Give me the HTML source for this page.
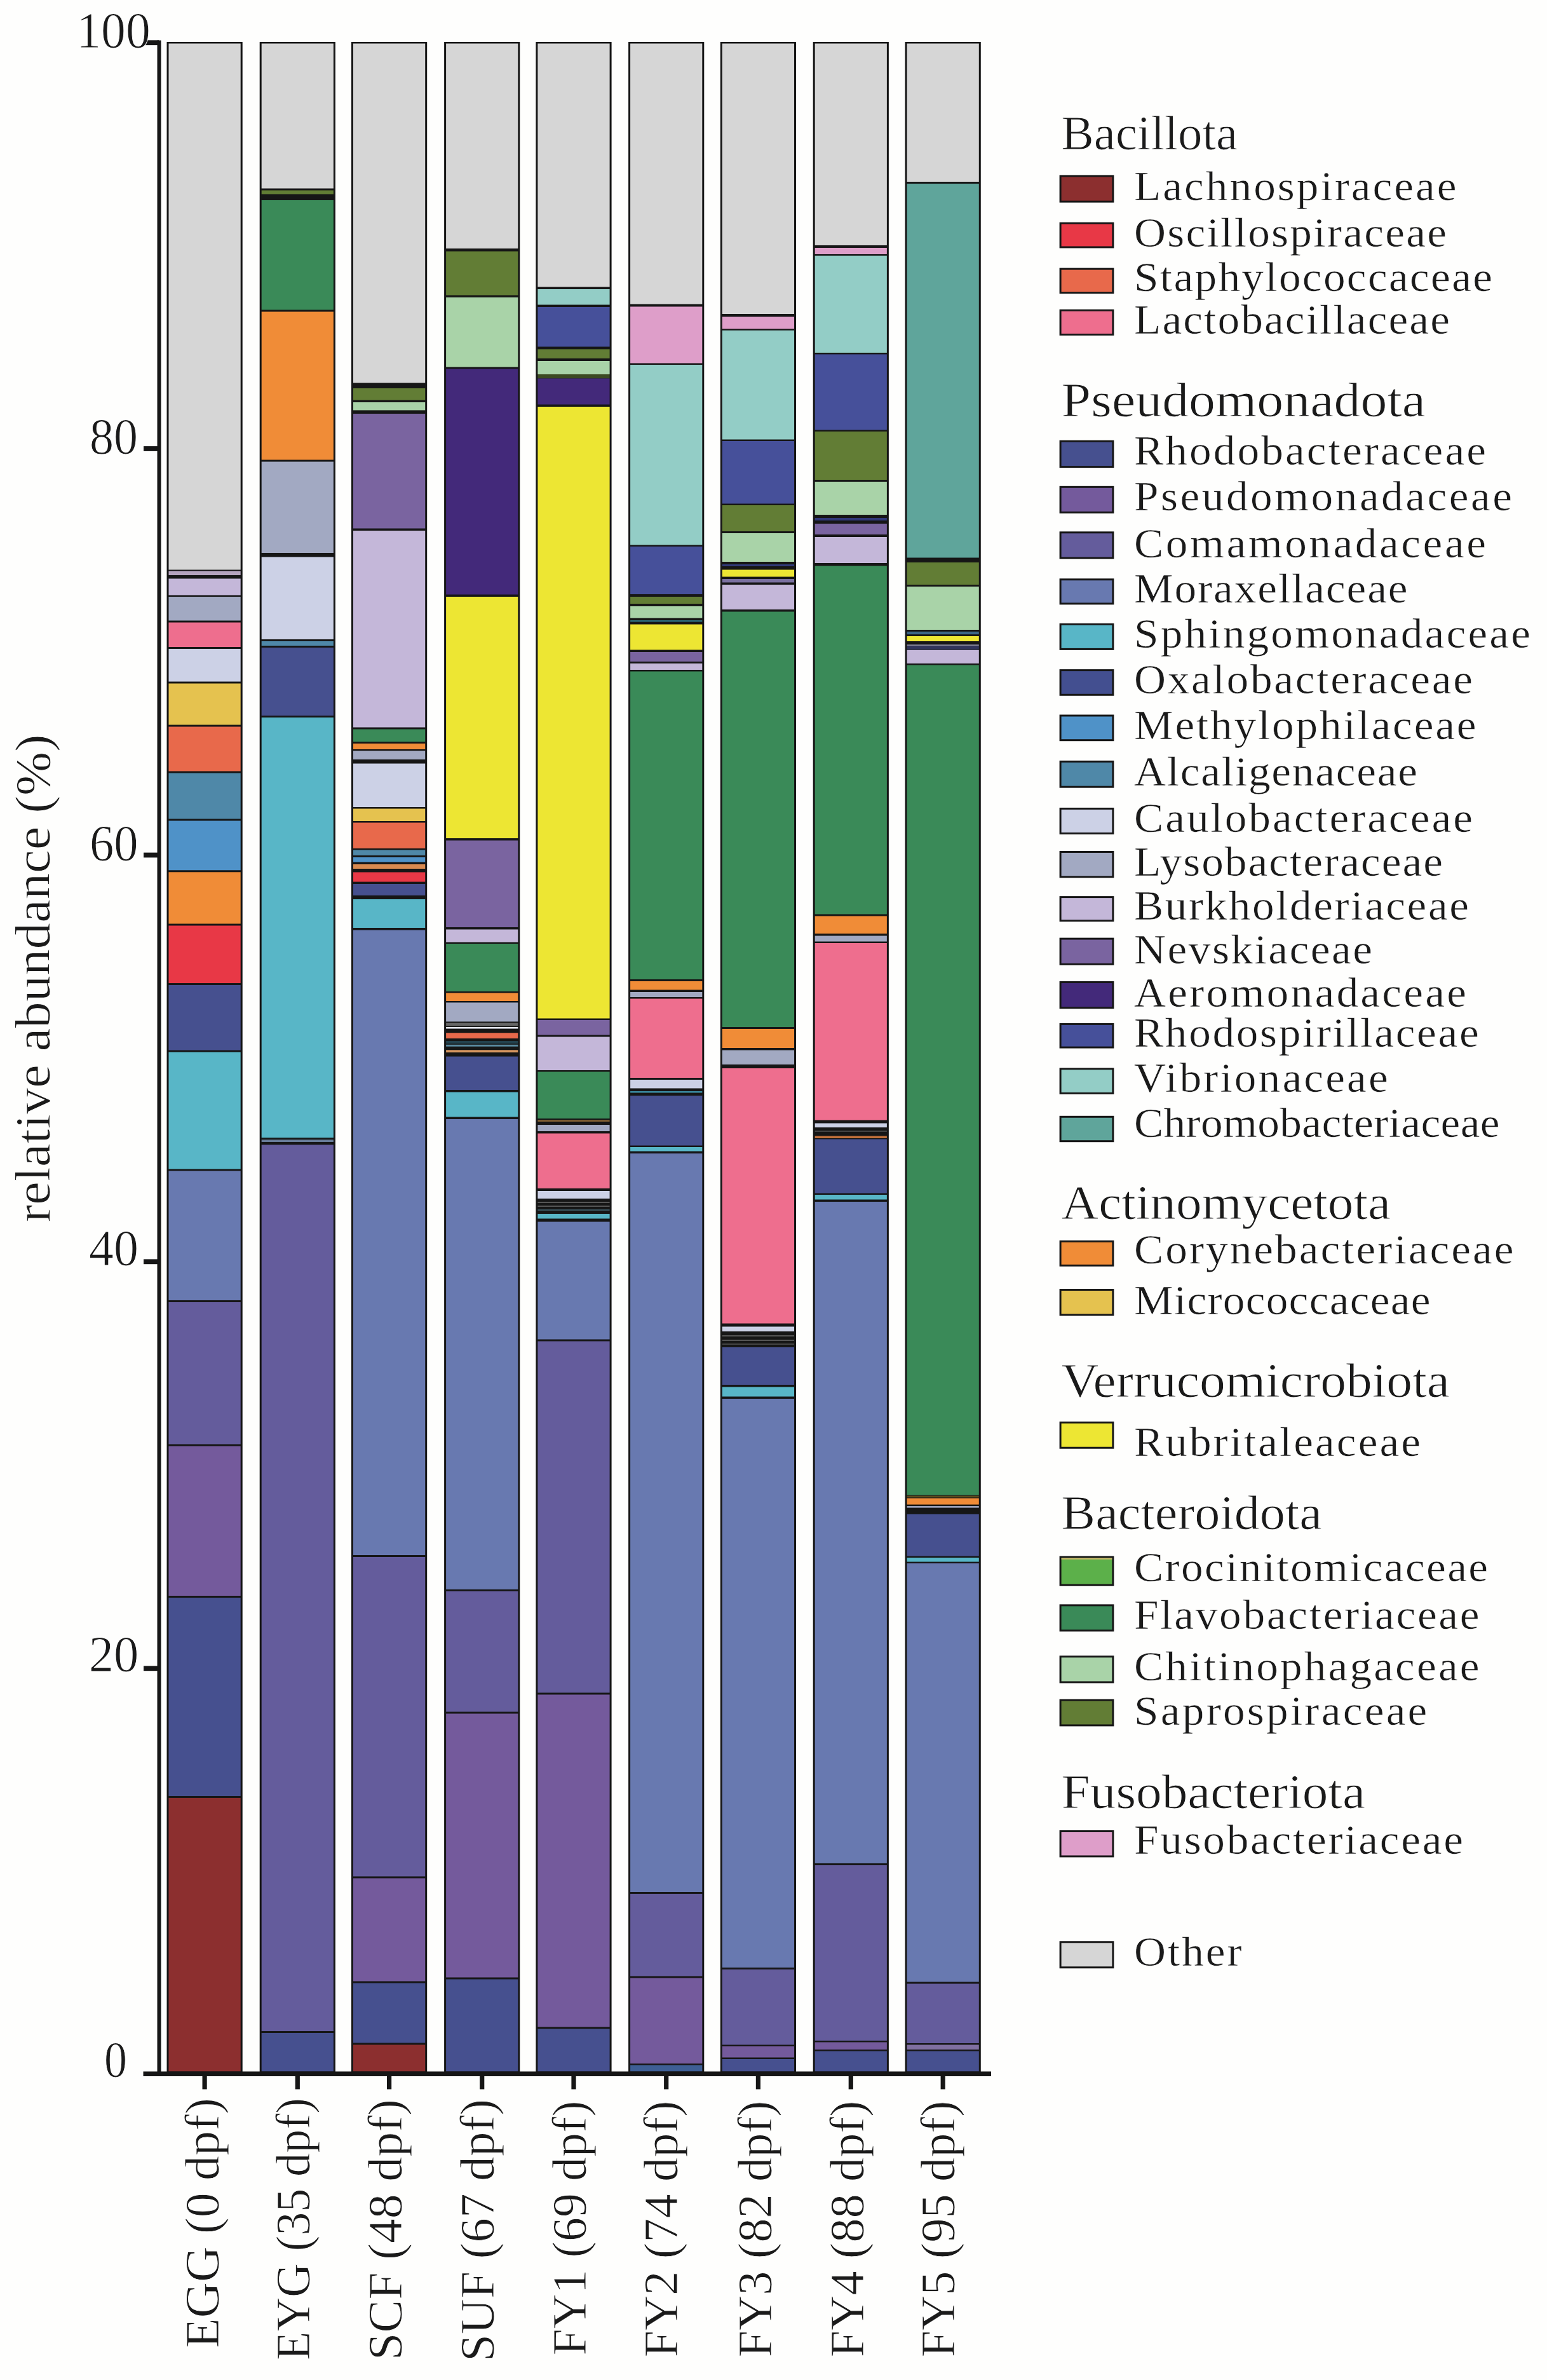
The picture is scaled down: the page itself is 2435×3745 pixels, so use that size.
<!DOCTYPE html>
<html lang="en"><head><meta charset="utf-8"><title>Relative abundance of bacterial families</title>
<style>html,body{margin:0;padding:0;background:#fefefd;}body{width:2435px;height:3745px;overflow:hidden;}svg{display:block;}text{stroke:#fefefd;stroke-width:0.9px;stroke-linejoin:round;}text.it{stroke-width:0.55px;}</style>
</head><body>
<svg width="2435" height="3745" viewBox="0 0 2435 3745" font-family="'Liberation Serif', 'DejaVu Serif', serif" fill="#1a1a1a">
<rect width="2435" height="3745" fill="#fefefd"/>
<g>
<rect x="262.5" y="66" width="119.2" height="3196" fill="#161616"/>
<rect x="265.5" y="68.5" width="113.2" height="828.0" fill="#d6d6d6"/>
<rect x="265.5" y="898.5" width="113.2" height="6.5" fill="#b5a4bf"/>
<rect x="265.5" y="910.5" width="113.2" height="26.0" fill="#c4b7d9"/>
<rect x="265.5" y="939" width="113.2" height="37.5" fill="#a2a9c2"/>
<rect x="265.5" y="979.5" width="113.2" height="38.5" fill="#ee6e8e"/>
<rect x="265.5" y="1021" width="113.2" height="51.5" fill="#ccd1e6"/>
<rect x="265.5" y="1075.5" width="113.2" height="65.0" fill="#e5c24f"/>
<rect x="265.5" y="1143.5" width="113.2" height="70.0" fill="#e8694b"/>
<rect x="265.5" y="1216.5" width="113.2" height="72.0" fill="#4f88a8"/>
<rect x="265.5" y="1291.5" width="113.2" height="77.8" fill="#4f92c8"/>
<rect x="265.5" y="1372.3" width="113.2" height="81.2" fill="#f08c37"/>
<rect x="265.5" y="1456.5" width="113.2" height="90.5" fill="#e83846"/>
<rect x="265.5" y="1550" width="113.2" height="102.5" fill="#46508f"/>
<rect x="265.5" y="1655.5" width="113.2" height="184.0" fill="#58b6c7"/>
<rect x="265.5" y="1842.5" width="113.2" height="203.5" fill="#6879b0"/>
<rect x="265.5" y="2049" width="113.2" height="223.5" fill="#645c9c"/>
<rect x="265.5" y="2275.5" width="113.2" height="235.5" fill="#745a9c"/>
<rect x="265.5" y="2514" width="113.2" height="312.0" fill="#46508f"/>
<rect x="265.5" y="2829" width="113.2" height="430.5" fill="#8c2f2f"/>
</g>
<g>
<rect x="408.7" y="66" width="119.2" height="3196" fill="#161616"/>
<rect x="411.7" y="68.5" width="113.2" height="228.0" fill="#d6d6d6"/>
<rect x="411.7" y="299.5" width="113.2" height="6.0" fill="#627d35"/>
<rect x="411.7" y="315" width="113.2" height="172.5" fill="#3a8a58"/>
<rect x="411.7" y="490.5" width="113.2" height="233.0" fill="#f08c37"/>
<rect x="411.7" y="726.5" width="113.2" height="143.5" fill="#a2a9c2"/>
<rect x="411.7" y="876.5" width="113.2" height="129.5" fill="#ccd1e6"/>
<rect x="411.7" y="1009" width="113.2" height="7.0" fill="#4f88a8"/>
<rect x="411.7" y="1019" width="113.2" height="107.0" fill="#46508f"/>
<rect x="411.7" y="1129" width="113.2" height="661.2" fill="#58b6c7"/>
<rect x="411.7" y="1793.3" width="113.2" height="3.7" fill="#687c98"/>
<rect x="411.7" y="1801.3" width="113.2" height="1394.7" fill="#645c9c"/>
<rect x="411.7" y="3199" width="113.2" height="60.5" fill="#46508f"/>
</g>
<g>
<rect x="553.0" y="66" width="119.2" height="3196" fill="#161616"/>
<rect x="556.0" y="68.5" width="113.2" height="534.0" fill="#d6d6d6"/>
<rect x="556.0" y="611" width="113.2" height="18.5" fill="#627d35"/>
<rect x="556.0" y="633" width="113.2" height="12.5" fill="#a9d3a8"/>
<rect x="556.0" y="651" width="113.2" height="180.5" fill="#7a64a0"/>
<rect x="556.0" y="835" width="113.2" height="309.5" fill="#c4b7d9"/>
<rect x="556.0" y="1147.5" width="113.2" height="19.5" fill="#3a8a58"/>
<rect x="556.0" y="1170" width="113.2" height="9.0" fill="#f08c37"/>
<rect x="556.0" y="1181.5" width="113.2" height="13.5" fill="#a2a9c2"/>
<rect x="556.0" y="1201.5" width="113.2" height="68.5" fill="#ccd1e6"/>
<rect x="556.0" y="1272.5" width="113.2" height="19.5" fill="#e5c24f"/>
<rect x="556.0" y="1294.5" width="113.2" height="40.5" fill="#e8694b"/>
<rect x="556.0" y="1337.5" width="113.2" height="8.5" fill="#4f88a8"/>
<rect x="556.0" y="1349" width="113.2" height="7.5" fill="#4f92c8"/>
<rect x="556.0" y="1360" width="113.2" height="7.0" fill="#d98a50"/>
<rect x="556.0" y="1372.5" width="113.2" height="15.0" fill="#e83846"/>
<rect x="556.0" y="1391" width="113.2" height="18.0" fill="#46508f"/>
<rect x="556.0" y="1415" width="113.2" height="45.0" fill="#58b6c7"/>
<rect x="556.0" y="1463.5" width="113.2" height="983.5" fill="#6879b0"/>
<rect x="556.0" y="2450" width="113.2" height="502.5" fill="#645c9c"/>
<rect x="556.0" y="2955.5" width="113.2" height="162.0" fill="#745a9c"/>
<rect x="556.0" y="3120.5" width="113.2" height="94.0" fill="#46508f"/>
<rect x="556.0" y="3217.5" width="113.2" height="42.0" fill="#8c2f2f"/>
</g>
<g>
<rect x="699.1" y="66" width="119.2" height="3196" fill="#161616"/>
<rect x="702.1" y="68.5" width="113.2" height="322.5" fill="#d6d6d6"/>
<rect x="702.1" y="395.5" width="113.2" height="69.0" fill="#627d35"/>
<rect x="702.1" y="468" width="113.2" height="109.5" fill="#a9d3a8"/>
<rect x="702.1" y="580.5" width="113.2" height="355.0" fill="#43297a"/>
<rect x="702.1" y="939" width="113.2" height="380.0" fill="#ede633"/>
<rect x="702.1" y="1322.5" width="113.2" height="136.5" fill="#7a64a0"/>
<rect x="702.1" y="1462.5" width="113.2" height="20.0" fill="#c4b7d9"/>
<rect x="702.1" y="1485" width="113.2" height="75.0" fill="#3a8a58"/>
<rect x="702.1" y="1562.5" width="113.2" height="12.5" fill="#f08c37"/>
<rect x="702.1" y="1577.5" width="113.2" height="30.0" fill="#a2a9c2"/>
<rect x="702.1" y="1609.5" width="113.2" height="4.8" fill="#666666"/>
<rect x="702.1" y="1616" width="113.2" height="2.6" fill="#e4e6f0"/>
<rect x="702.1" y="1625.3" width="113.2" height="8.7" fill="#e8694b"/>
<rect x="702.1" y="1638" width="113.2" height="4.3" fill="#23414d"/>
<rect x="702.1" y="1643.8" width="113.2" height="2.9" fill="#5a8aa0"/>
<rect x="702.1" y="1652.3" width="113.2" height="3.7" fill="#d99860"/>
<rect x="702.1" y="1662.5" width="113.2" height="52.5" fill="#46508f"/>
<rect x="702.1" y="1718.5" width="113.2" height="39.0" fill="#58b6c7"/>
<rect x="702.1" y="1761" width="113.2" height="740.0" fill="#6879b0"/>
<rect x="702.1" y="2504" width="113.2" height="189.5" fill="#645c9c"/>
<rect x="702.1" y="2696.5" width="113.2" height="415.0" fill="#745a9c"/>
<rect x="702.1" y="3114.5" width="113.2" height="145.0" fill="#46508f"/>
</g>
<g>
<rect x="843.4" y="66" width="119.2" height="3196" fill="#161616"/>
<rect x="846.4" y="68.5" width="113.2" height="383.0" fill="#d6d6d6"/>
<rect x="846.4" y="455" width="113.2" height="24.5" fill="#93cdc6"/>
<rect x="846.4" y="483" width="113.2" height="62.5" fill="#46509a"/>
<rect x="846.4" y="549.5" width="113.2" height="14.5" fill="#627d35"/>
<rect x="846.4" y="568" width="113.2" height="21.0" fill="#a9d3a8"/>
<rect x="846.4" y="589" width="113.2" height="6.5" fill="#3c4a22"/>
<rect x="846.4" y="595.5" width="113.2" height="41.0" fill="#43297a"/>
<rect x="846.4" y="640" width="113.2" height="962.5" fill="#ede633"/>
<rect x="846.4" y="1605" width="113.2" height="23.5" fill="#7a64a0"/>
<rect x="846.4" y="1631.5" width="113.2" height="52.5" fill="#c4b7d9"/>
<rect x="846.4" y="1686.5" width="113.2" height="73.5" fill="#3a8a58"/>
<rect x="846.4" y="1762" width="113.2" height="3.0" fill="#7a5a30"/>
<rect x="846.4" y="1770" width="113.2" height="10.0" fill="#a2a9c2"/>
<rect x="846.4" y="1783.5" width="113.2" height="86.5" fill="#ee6e8e"/>
<rect x="846.4" y="1874" width="113.2" height="12.0" fill="#ccd1e6"/>
<rect x="846.4" y="1891" width="113.2" height="2.0" fill="#555"/>
<rect x="846.4" y="1897" width="113.2" height="2.0" fill="#555"/>
<rect x="846.4" y="1903" width="113.2" height="2.0" fill="#3b5560"/>
<rect x="846.4" y="1910" width="113.2" height="7.5" fill="#58b6c7"/>
<rect x="846.4" y="1922.5" width="113.2" height="185.0" fill="#6879b0"/>
<rect x="846.4" y="2110.5" width="113.2" height="553.0" fill="#645c9c"/>
<rect x="846.4" y="2666.5" width="113.2" height="523.0" fill="#745a9c"/>
<rect x="846.4" y="3192.5" width="113.2" height="67.0" fill="#46508f"/>
</g>
<g>
<rect x="989.1" y="66" width="119.2" height="3196" fill="#161616"/>
<rect x="992.1" y="68.5" width="113.2" height="410.0" fill="#d6d6d6"/>
<rect x="992.1" y="482.5" width="113.2" height="89.0" fill="#de9ec9"/>
<rect x="992.1" y="574" width="113.2" height="283.5" fill="#93cdc6"/>
<rect x="992.1" y="860" width="113.2" height="75.0" fill="#46509a"/>
<rect x="992.1" y="939" width="113.2" height="11.0" fill="#627d35"/>
<rect x="992.1" y="954" width="113.2" height="18.5" fill="#a9d3a8"/>
<rect x="992.1" y="976" width="113.2" height="2.5" fill="#2d6d7a"/>
<rect x="992.1" y="982.5" width="113.2" height="40.0" fill="#ede633"/>
<rect x="992.1" y="1026" width="113.2" height="15.0" fill="#7a64a0"/>
<rect x="992.1" y="1044" width="113.2" height="10.0" fill="#c4b7d9"/>
<rect x="992.1" y="1056.5" width="113.2" height="484.5" fill="#3a8a58"/>
<rect x="992.1" y="1544" width="113.2" height="13.5" fill="#f08c37"/>
<rect x="992.1" y="1561" width="113.2" height="8.0" fill="#a2a9c2"/>
<rect x="992.1" y="1571.5" width="113.2" height="124.5" fill="#ee6e8e"/>
<rect x="992.1" y="1699" width="113.2" height="13.5" fill="#ccd1e6"/>
<rect x="992.1" y="1717" width="113.2" height="2.5" fill="#3a8aa0"/>
<rect x="992.1" y="1724" width="113.2" height="78.5" fill="#46508f"/>
<rect x="992.1" y="1805" width="113.2" height="6.5" fill="#58b6c7"/>
<rect x="992.1" y="1815" width="113.2" height="1162.0" fill="#6879b0"/>
<rect x="992.1" y="2980" width="113.2" height="129.5" fill="#645c9c"/>
<rect x="992.1" y="3112.5" width="113.2" height="134.5" fill="#745a9c"/>
<rect x="992.1" y="3249.5" width="113.2" height="10.0" fill="#3e5f95"/>
</g>
<g>
<rect x="1133.8" y="66" width="119.2" height="3196" fill="#161616"/>
<rect x="1136.8" y="68.5" width="113.2" height="425.5" fill="#d6d6d6"/>
<rect x="1136.8" y="498.5" width="113.2" height="19.0" fill="#de9ec9"/>
<rect x="1136.8" y="520" width="113.2" height="171.5" fill="#93cdc6"/>
<rect x="1136.8" y="694" width="113.2" height="98.5" fill="#46509a"/>
<rect x="1136.8" y="795" width="113.2" height="41.0" fill="#627d35"/>
<rect x="1136.8" y="839" width="113.2" height="45.0" fill="#a9d3a8"/>
<rect x="1136.8" y="888" width="113.2" height="3.0" fill="#303a78"/>
<rect x="1136.8" y="896.5" width="113.2" height="11.0" fill="#ede633"/>
<rect x="1136.8" y="911" width="113.2" height="5.5" fill="#7a70a0"/>
<rect x="1136.8" y="920" width="113.2" height="39.0" fill="#c4b7d9"/>
<rect x="1136.8" y="962.5" width="113.2" height="653.5" fill="#3a8a58"/>
<rect x="1136.8" y="1619" width="113.2" height="30.0" fill="#f08c37"/>
<rect x="1136.8" y="1652.5" width="113.2" height="22.5" fill="#a2a9c2"/>
<rect x="1136.8" y="1681" width="113.2" height="401.5" fill="#ee6e8e"/>
<rect x="1136.8" y="2087.5" width="113.2" height="7.5" fill="#ccd1e6"/>
<rect x="1136.8" y="2101" width="113.2" height="2.0" fill="#555"/>
<rect x="1136.8" y="2108" width="113.2" height="2.0" fill="#555"/>
<rect x="1136.8" y="2114" width="113.2" height="2.0" fill="#444"/>
<rect x="1136.8" y="2120" width="113.2" height="59.0" fill="#46508f"/>
<rect x="1136.8" y="2182.5" width="113.2" height="15.0" fill="#58b6c7"/>
<rect x="1136.8" y="2201" width="113.2" height="895.0" fill="#6879b0"/>
<rect x="1136.8" y="3099" width="113.2" height="118.5" fill="#645c9c"/>
<rect x="1136.8" y="3220" width="113.2" height="17.5" fill="#745a9c"/>
<rect x="1136.8" y="3240" width="113.2" height="19.5" fill="#46508f"/>
</g>
<g>
<rect x="1279.7" y="66" width="119.2" height="3196" fill="#161616"/>
<rect x="1282.7" y="68.5" width="113.2" height="317.5" fill="#d6d6d6"/>
<rect x="1282.7" y="390" width="113.2" height="10.0" fill="#de9ec9"/>
<rect x="1282.7" y="402.5" width="113.2" height="152.5" fill="#93cdc6"/>
<rect x="1282.7" y="557.5" width="113.2" height="119.0" fill="#46509a"/>
<rect x="1282.7" y="679" width="113.2" height="76.0" fill="#627d35"/>
<rect x="1282.7" y="758" width="113.2" height="52.0" fill="#a9d3a8"/>
<rect x="1282.7" y="815" width="113.2" height="4.0" fill="#303878"/>
<rect x="1282.7" y="824" width="113.2" height="17.0" fill="#7a64a0"/>
<rect x="1282.7" y="845" width="113.2" height="41.0" fill="#c4b7d9"/>
<rect x="1282.7" y="890.5" width="113.2" height="548.0" fill="#3a8a58"/>
<rect x="1282.7" y="1441.5" width="113.2" height="27.5" fill="#f08c37"/>
<rect x="1282.7" y="1472.5" width="113.2" height="9.0" fill="#a2a9c2"/>
<rect x="1282.7" y="1484" width="113.2" height="278.5" fill="#ee6e8e"/>
<rect x="1282.7" y="1767.5" width="113.2" height="6.5" fill="#ccd1e6"/>
<rect x="1282.7" y="1779" width="113.2" height="2.0" fill="#444"/>
<rect x="1282.7" y="1787.5" width="113.2" height="3.5" fill="#c0703a"/>
<rect x="1282.7" y="1792.5" width="113.2" height="85.0" fill="#46508f"/>
<rect x="1282.7" y="1880" width="113.2" height="7.5" fill="#58b6c7"/>
<rect x="1282.7" y="1891" width="113.2" height="1041.0" fill="#6879b0"/>
<rect x="1282.7" y="2935" width="113.2" height="276.0" fill="#645c9c"/>
<rect x="1282.7" y="3213.5" width="113.2" height="11.5" fill="#745a9c"/>
<rect x="1282.7" y="3227.5" width="113.2" height="32.0" fill="#46508f"/>
</g>
<g>
<rect x="1424.6" y="66" width="119.2" height="3196" fill="#161616"/>
<rect x="1427.6" y="68.5" width="113.2" height="217.5" fill="#d6d6d6"/>
<rect x="1427.6" y="289" width="113.2" height="588.5" fill="#5fa59b"/>
<rect x="1427.6" y="885" width="113.2" height="35.0" fill="#627d35"/>
<rect x="1427.6" y="923" width="113.2" height="68.0" fill="#a9d3a8"/>
<rect x="1427.6" y="993.8" width="113.2" height="4.4" fill="#3b6585"/>
<rect x="1427.6" y="1001" width="113.2" height="8.0" fill="#ede633"/>
<rect x="1427.6" y="1014.2" width="113.2" height="2.2" fill="#85869a"/>
<rect x="1427.6" y="1016.4" width="113.2" height="5.6" fill="#30345a"/>
<rect x="1427.6" y="1022.8" width="113.2" height="21.2" fill="#c4b7d9"/>
<rect x="1427.6" y="1046.5" width="113.2" height="1306.1" fill="#3a8a58"/>
<rect x="1427.6" y="2353.6" width="113.2" height="2.8" fill="#5c4a1c"/>
<rect x="1427.6" y="2357.5" width="113.2" height="10.0" fill="#f08c37"/>
<rect x="1427.6" y="2370" width="113.2" height="2.5" fill="#a2a9c2"/>
<rect x="1427.6" y="2382.5" width="113.2" height="66.0" fill="#46508f"/>
<rect x="1427.6" y="2451" width="113.2" height="6.5" fill="#58b6c7"/>
<rect x="1427.6" y="2460" width="113.2" height="658.5" fill="#6879b0"/>
<rect x="1427.6" y="3121.5" width="113.2" height="93.5" fill="#645c9c"/>
<rect x="1427.6" y="3217.5" width="113.2" height="7.5" fill="#8070a0"/>
<rect x="1427.6" y="3227.5" width="113.2" height="32.0" fill="#46508f"/>
</g>
<rect x="247.5" y="63.5" width="6" height="3203.5" fill="#161616"/>
<rect x="225.5" y="3259.5" width="1334.5" height="7.5" fill="#161616"/>
<rect x="226" y="63.3" width="24" height="7.8" fill="#161616"/>
<rect x="226" y="702.1" width="24" height="7.8" fill="#161616"/>
<rect x="226" y="1341.6" width="24" height="7.8" fill="#161616"/>
<rect x="226" y="1981.4" width="24" height="7.8" fill="#161616"/>
<rect x="226" y="2621.4" width="24" height="7.8" fill="#161616"/>
<text x="178.5" y="75.4" font-size="80" text-anchor="middle" textLength="116.5" lengthAdjust="spacingAndGlyphs">100</text>
<text x="179" y="714.0" font-size="80" text-anchor="middle" textLength="76" lengthAdjust="spacingAndGlyphs">80</text>
<text x="179.3" y="1353.6" font-size="80" text-anchor="middle" textLength="76.6" lengthAdjust="spacingAndGlyphs">60</text>
<text x="179" y="1991.0" font-size="80" text-anchor="middle" textLength="78" lengthAdjust="spacingAndGlyphs">40</text>
<text x="179" y="2630.0" font-size="80" text-anchor="middle" textLength="78.6" lengthAdjust="spacingAndGlyphs">20</text>
<text x="182" y="3268.0" font-size="80" text-anchor="middle" textLength="36" lengthAdjust="spacingAndGlyphs">0</text>
<rect x="318.5" y="3266" width="7.2" height="21.5" fill="#161616"/>
<text transform="translate(344.0,3695) rotate(-90)" font-size="77" textLength="394" lengthAdjust="spacingAndGlyphs">EGG (0 dpf)</text>
<rect x="464.7" y="3266" width="7.2" height="21.5" fill="#161616"/>
<text transform="translate(487.4,3714) rotate(-90)" font-size="77" textLength="413" lengthAdjust="spacingAndGlyphs">EYG (35 dpf)</text>
<rect x="609.0" y="3266" width="7.2" height="21.5" fill="#161616"/>
<text transform="translate(632.3,3714) rotate(-90)" font-size="77" textLength="411" lengthAdjust="spacingAndGlyphs">SCF (48 dpf)</text>
<rect x="755.1" y="3266" width="7.2" height="21.5" fill="#161616"/>
<text transform="translate(777.0,3716) rotate(-90)" font-size="77" textLength="413" lengthAdjust="spacingAndGlyphs">SUF (67 dpf)</text>
<rect x="899.4" y="3266" width="7.2" height="21.5" fill="#161616"/>
<text transform="translate(922.0,3706.5) rotate(-90)" font-size="77" textLength="401" lengthAdjust="spacingAndGlyphs">FY1 (69 dpf)</text>
<rect x="1045.1" y="3266" width="7.2" height="21.5" fill="#161616"/>
<text transform="translate(1065.6,3709.5) rotate(-90)" font-size="77" textLength="404" lengthAdjust="spacingAndGlyphs">FY2 (74 dpf)</text>
<rect x="1189.8" y="3266" width="7.2" height="21.5" fill="#161616"/>
<text transform="translate(1214.4,3709.5) rotate(-90)" font-size="77" textLength="404" lengthAdjust="spacingAndGlyphs">FY3 (82 dpf)</text>
<rect x="1335.7" y="3266" width="7.2" height="21.5" fill="#161616"/>
<text transform="translate(1359.3,3709.5) rotate(-90)" font-size="77" textLength="404" lengthAdjust="spacingAndGlyphs">FY4 (88 dpf)</text>
<rect x="1480.6" y="3266" width="7.2" height="21.5" fill="#161616"/>
<text transform="translate(1501.8,3709.5) rotate(-90)" font-size="77" textLength="404" lengthAdjust="spacingAndGlyphs">FY5 (95 dpf)</text>
<text transform="translate(77.5,1923.5) rotate(-90)" font-size="78" textLength="768" lengthAdjust="spacingAndGlyphs">relative abundance (%)</text>
<rect x="1667.6" y="275.5" width="85.8" height="43.2" fill="#161616"/>
<rect x="1670.6" y="278.5" width="79.8" height="37.2" fill="#8c2f2f"/>
<text class="it" transform="translate(1785.0,314.9) scale(1.05,1)" font-size="66" textLength="483.4" lengthAdjust="spacing">Lachnospiraceae</text>
<rect x="1667.6" y="349.8" width="85.8" height="40.7" fill="#161616"/>
<rect x="1670.6" y="352.8" width="79.8" height="34.7" fill="#e83846"/>
<text class="it" transform="translate(1785.0,387.8) scale(1.05,1)" font-size="66" textLength="468.6" lengthAdjust="spacing">Oscillospiraceae</text>
<rect x="1667.6" y="421.6" width="85.8" height="40.5" fill="#161616"/>
<rect x="1670.6" y="424.6" width="79.8" height="34.5" fill="#e8694b"/>
<text class="it" transform="translate(1785.0,458.3) scale(1.05,1)" font-size="66" textLength="537.1" lengthAdjust="spacing">Staphylococcaceae</text>
<rect x="1667.6" y="486.8" width="85.8" height="41.2" fill="#161616"/>
<rect x="1670.6" y="489.8" width="79.8" height="35.2" fill="#ee6e8e"/>
<text class="it" transform="translate(1785.0,524.6) scale(1.05,1)" font-size="66" textLength="473.3" lengthAdjust="spacing">Lactobacillaceae</text>
<rect x="1667.6" y="692.8" width="85.8" height="43.3" fill="#161616"/>
<rect x="1670.6" y="695.8" width="79.8" height="37.3" fill="#46508f"/>
<text class="it" transform="translate(1785.0,730.5) scale(1.05,1)" font-size="66" textLength="527.6" lengthAdjust="spacing">Rhodobacteraceae</text>
<rect x="1667.6" y="764.8" width="85.8" height="43.0" fill="#161616"/>
<rect x="1670.6" y="767.8" width="79.8" height="37.0" fill="#745a9c"/>
<text class="it" transform="translate(1785.0,802.8) scale(1.05,1)" font-size="66" textLength="566.7" lengthAdjust="spacing">Pseudomonadaceae</text>
<rect x="1667.6" y="836.3" width="85.8" height="43.3" fill="#161616"/>
<rect x="1670.6" y="839.3" width="79.8" height="37.3" fill="#645c9c"/>
<text class="it" transform="translate(1785.0,876.5) scale(1.05,1)" font-size="66" textLength="527.6" lengthAdjust="spacing">Comamonadaceae</text>
<rect x="1667.6" y="910.3" width="85.8" height="41.1" fill="#161616"/>
<rect x="1670.6" y="913.3" width="79.8" height="35.1" fill="#6879b0"/>
<text class="it" transform="translate(1785.0,948.0) scale(1.05,1)" font-size="66" textLength="410.1" lengthAdjust="spacing">Moraxellaceae</text>
<rect x="1667.6" y="980.8" width="85.8" height="42.1" fill="#161616"/>
<rect x="1670.6" y="983.8" width="79.8" height="36.1" fill="#58b6c7"/>
<text class="it" transform="translate(1785.0,1018.7) scale(1.05,1)" font-size="66" textLength="594.3" lengthAdjust="spacing">Sphingomonadaceae</text>
<rect x="1667.6" y="1053.1" width="85.8" height="41.7" fill="#161616"/>
<rect x="1670.6" y="1056.1" width="79.8" height="35.7" fill="#434f90"/>
<text class="it" transform="translate(1785.0,1091.0) scale(1.05,1)" font-size="66" textLength="507.6" lengthAdjust="spacing">Oxalobacteraceae</text>
<rect x="1667.6" y="1124.5" width="85.8" height="41.7" fill="#161616"/>
<rect x="1670.6" y="1127.5" width="79.8" height="35.7" fill="#4f92c8"/>
<text class="it" transform="translate(1785.0,1162.9) scale(1.05,1)" font-size="66" textLength="512.9" lengthAdjust="spacing">Methylophilaceae</text>
<rect x="1667.6" y="1196.8" width="85.8" height="42.9" fill="#161616"/>
<rect x="1670.6" y="1199.8" width="79.8" height="36.9" fill="#4f88a8"/>
<text class="it" transform="translate(1785.0,1235.5) scale(1.05,1)" font-size="66" textLength="424.8" lengthAdjust="spacing">Alcaligenaceae</text>
<rect x="1667.6" y="1270.9" width="85.8" height="42.0" fill="#161616"/>
<rect x="1670.6" y="1273.9" width="79.8" height="36.0" fill="#ccd1e6"/>
<text class="it" transform="translate(1785.0,1308.8) scale(1.05,1)" font-size="66" textLength="507.6" lengthAdjust="spacing">Caulobacteraceae</text>
<rect x="1667.6" y="1339.0" width="85.8" height="42.3" fill="#161616"/>
<rect x="1670.6" y="1342.0" width="79.8" height="36.3" fill="#a2a9c2"/>
<text class="it" transform="translate(1785.0,1377.6) scale(1.05,1)" font-size="66" textLength="462.9" lengthAdjust="spacing">Lysobacteraceae</text>
<rect x="1667.6" y="1410.1" width="85.8" height="40.2" fill="#161616"/>
<rect x="1670.6" y="1413.1" width="79.8" height="34.2" fill="#c4b7d9"/>
<text class="it" transform="translate(1785.0,1447.4) scale(1.05,1)" font-size="66" textLength="501.9" lengthAdjust="spacing">Burkholderiaceae</text>
<rect x="1667.6" y="1475.6" width="85.8" height="43.2" fill="#161616"/>
<rect x="1670.6" y="1478.6" width="79.8" height="37.2" fill="#7a64a0"/>
<text class="it" transform="translate(1785.0,1515.5) scale(1.05,1)" font-size="66" textLength="357.1" lengthAdjust="spacing">Nevskiaceae</text>
<rect x="1667.6" y="1544.0" width="85.8" height="43.4" fill="#161616"/>
<rect x="1670.6" y="1547.0" width="79.8" height="37.4" fill="#43297a"/>
<text class="it" transform="translate(1785.0,1583.5) scale(1.05,1)" font-size="66" textLength="498.1" lengthAdjust="spacing">Aeromonadaceae</text>
<rect x="1667.6" y="1609.9" width="85.8" height="39.7" fill="#161616"/>
<rect x="1670.6" y="1612.9" width="79.8" height="33.7" fill="#46509a"/>
<text class="it" transform="translate(1785.0,1646.6) scale(1.05,1)" font-size="66" textLength="516.8" lengthAdjust="spacing">Rhodospirillaceae</text>
<rect x="1667.6" y="1680.3" width="85.8" height="41.6" fill="#161616"/>
<rect x="1670.6" y="1683.3" width="79.8" height="35.6" fill="#93cdc6"/>
<text class="it" transform="translate(1785.0,1718.2) scale(1.05,1)" font-size="66" textLength="380.7" lengthAdjust="spacing">Vibrionaceae</text>
<rect x="1667.6" y="1755.8" width="85.8" height="41.4" fill="#161616"/>
<rect x="1670.6" y="1758.8" width="79.8" height="35.4" fill="#5fa59b"/>
<text class="it" transform="translate(1785.0,1789.4) scale(1.05,1)" font-size="66" textLength="548.1" lengthAdjust="spacing">Chromobacteriaceae</text>
<rect x="1667.6" y="1951.8" width="85.8" height="41.0" fill="#161616"/>
<rect x="1670.6" y="1954.8" width="79.8" height="35.0" fill="#f08c37"/>
<text class="it" transform="translate(1785.0,1988.2) scale(1.05,1)" font-size="66" textLength="569.1" lengthAdjust="spacing">Corynebacteriaceae</text>
<rect x="1667.6" y="2028.0" width="85.8" height="42.5" fill="#161616"/>
<rect x="1670.6" y="2031.0" width="79.8" height="36.5" fill="#e5c24f"/>
<text class="it" transform="translate(1785.0,2067.7) scale(1.05,1)" font-size="66" textLength="444.3" lengthAdjust="spacing">Micrococcaceae</text>
<rect x="1667.6" y="2236.8" width="85.8" height="42.9" fill="#161616"/>
<rect x="1670.6" y="2239.8" width="79.8" height="36.9" fill="#ede633"/>
<text class="it" transform="translate(1785.0,2291.4) scale(1.05,1)" font-size="66" textLength="429.5" lengthAdjust="spacing">Rubritaleaceae</text>
<rect x="1667.6" y="2448.5" width="85.8" height="47.2" fill="#161616"/>
<rect x="1670.6" y="2451.5" width="79.8" height="41.2" fill="#5cb04a"/>
<text class="it" transform="translate(1785.0,2487.5) scale(1.05,1)" font-size="66" textLength="530.5" lengthAdjust="spacing">Crocinitomicaceae</text>
<rect x="1667.6" y="2524.4" width="85.8" height="42.9" fill="#161616"/>
<rect x="1670.6" y="2527.4" width="79.8" height="36.9" fill="#3a8a58"/>
<text class="it" transform="translate(1785.0,2563.0) scale(1.05,1)" font-size="66" textLength="517.7" lengthAdjust="spacing">Flavobacteriaceae</text>
<rect x="1667.6" y="2605.2" width="85.8" height="43.3" fill="#161616"/>
<rect x="1670.6" y="2608.2" width="79.8" height="37.3" fill="#a9d3a8"/>
<text class="it" transform="translate(1785.0,2644.0) scale(1.05,1)" font-size="66" textLength="517.7" lengthAdjust="spacing">Chitinophagaceae</text>
<rect x="1667.6" y="2673.7" width="85.8" height="42.7" fill="#161616"/>
<rect x="1670.6" y="2676.7" width="79.8" height="36.7" fill="#627d35"/>
<text class="it" transform="translate(1785.0,2713.5) scale(1.05,1)" font-size="66" textLength="439.4" lengthAdjust="spacing">Saprospiraceae</text>
<rect x="1667.6" y="2880.0" width="85.8" height="42.5" fill="#161616"/>
<rect x="1670.6" y="2883.0" width="79.8" height="36.5" fill="#de9ec9"/>
<text class="it" transform="translate(1785.0,2917.0) scale(1.05,1)" font-size="66" textLength="493.3" lengthAdjust="spacing">Fusobacteriaceae</text>
<rect x="1667.6" y="3054.3" width="85.8" height="43.0" fill="#161616"/>
<rect x="1670.6" y="3057.3" width="79.8" height="37.0" fill="#d6d6d6"/>
<text class="it" transform="translate(1785.0,3093.0) scale(1.05,1)" font-size="66" textLength="161.4" lengthAdjust="spacing">Other</text>
<rect x="1670.6" y="2451.5" width="79.8" height="2.4" fill="#c9b96a"/>
<text x="1670.6" y="235.2" font-size="77" textLength="277.4" lengthAdjust="spacingAndGlyphs">Bacillota</text>
<text x="1670.6" y="654.6" font-size="77" textLength="573.4" lengthAdjust="spacingAndGlyphs">Pseudomonadota</text>
<text x="1670.6" y="1918" font-size="77" textLength="518.4" lengthAdjust="spacingAndGlyphs">Actinomycetota</text>
<text x="1670.6" y="2197.8" font-size="77" textLength="611.4" lengthAdjust="spacingAndGlyphs">Verrucomicrobiota</text>
<text x="1670.6" y="2405.7" font-size="77" textLength="410.4" lengthAdjust="spacingAndGlyphs">Bacteroidota</text>
<text x="1670.6" y="2844.7" font-size="77" textLength="478.4" lengthAdjust="spacingAndGlyphs">Fusobacteriota</text>
</svg>
</body></html>
